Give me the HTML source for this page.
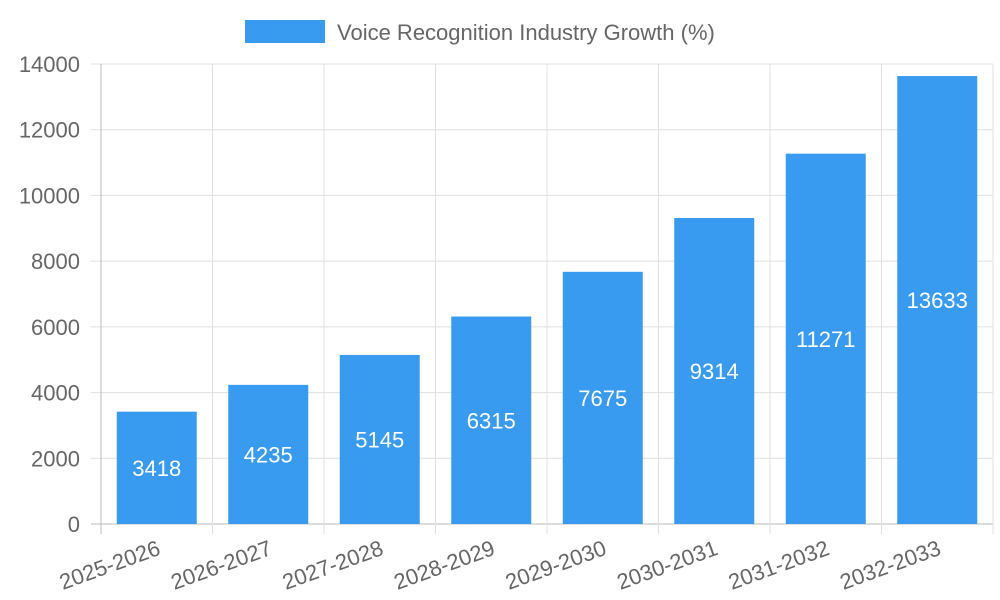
<!DOCTYPE html>
<html><head><meta charset="utf-8"><style>
html,body{margin:0;padding:0;background:#fff;}
svg{display:block;font-family:"Liberation Sans",sans-serif;}
</style></head><body>
<svg id="chart" width="1000" height="600">
<g id="legend">
<rect x="245" y="20" width="80" height="23" fill="#389bef"></rect>
<text x="337" y="40" font-size="22" fill="#666">Voice Recognition Industry Growth (%)</text>
</g>
<g id="grid"></g><g id="bars"></g><g id="axes"></g>
</svg>
<script>
const categories=["2025-2026","2026-2027","2027-2028","2028-2029","2029-2030","2030-2031","2031-2032","2032-2033"];
const values=[3418,4235,5145,6315,7675,9314,11271,13633];
const yTicks=[0,2000,4000,6000,8000,10000,12000,14000];
const NS="http://www.w3.org/2000/svg";
const L=101,R=993,T=64,B=524,YMAX=14000;
const bw=(R-L)/categories.length;
function y(v){return B-(v/YMAX)*(B-T);}
function x(i){return L+bw*i;}
function mk(tag,attrs,parent,text){const e=document.createElementNS(NS,tag);for(const k in attrs)e.setAttribute(k,attrs[k]);if(text!==undefined)e.textContent=text;document.getElementById(parent).appendChild(e);return e;}
yTicks.forEach(t=>{
 const g=mk('line',{x1:L-10,x2:R,y1:y(t),y2:y(t),stroke:t===0?'#bbb':'#e0e0e0','stroke-width':1},'grid');
 
 
 const lb=mk('text',{x:L-21,y:y(t)+8,'text-anchor':'end','font-size':22,fill:'#666'},'axes',t);
 
 
});
for(let i=0;i<=categories.length;i++){
 const g=mk('line',{x1:x(i),x2:x(i),y1:T,y2:B+10,stroke:i===0?'#bbb':'#e0e0e0','stroke-width':1},'grid');
 
 
}
categories.forEach((c,i)=>{
 const cx=x(i)+bw/2, w=80;
 const b=mk('rect',{x:cx-w/2,y:y(values[i]),width:w,height:B-y(values[i]),fill:'#389bef'},'bars');
 
 
 const v=mk('text',{x:cx,y:(y(values[i])+B)/2+8,'text-anchor':'middle','font-size':22,fill:'#fff'},'bars',values[i]);
 
 
 const lb=mk('text',{x:cx+5,y:B+30,'text-anchor':'end','font-size':22,fill:'#666',transform:`rotate(-20 ${cx+5} ${B+30})`},'axes',c);
 
 
});
</script>
</body></html>
